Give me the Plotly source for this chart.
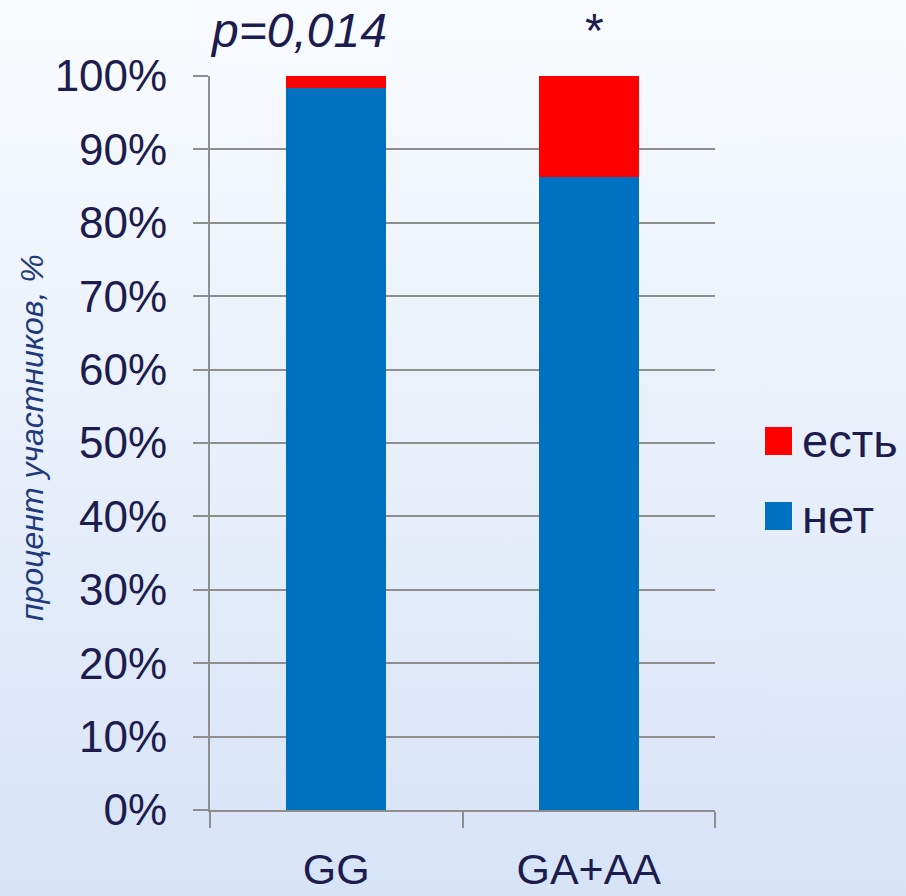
import base64
import plotly.graph_objects as go

categories = ["GG", "GA+AA"]
net_values = [0.984, 0.862]    # "нет"
est_values = [0.016, 0.138]    # "есть"
series_names = ["нет", "есть"]
series_colors = ["#0070C0", "#FF0000"]
y_tickvals = [i / 10 for i in range(11)]
annotation_p = "p=0,014"
annotation_star = "*"
y_title = "процент участников, %"

FONT = "Liberation Sans, Arial, sans-serif"
TXT = "#1c1c4e"

W, H = 906, 896
ML, MT = 210, 76
MR = W - 715
MB = H - 810
PW, PH = W - ML - MR, H - MT - MB


def sx(px):  # screen pixel -> paper x
    return (px - ML) / PW


def sy(py):  # screen pixel -> paper y
    return (H - MB - py) / PH


svg = (
    '<svg xmlns="http://www.w3.org/2000/svg" width="100" height="100" preserveAspectRatio="none">'
    '<defs><linearGradient id="g" x1="0" y1="0" x2="0" y2="1">'
    '<stop offset="0" stop-color="#F9FCFE"/><stop offset="1" stop-color="#D7E3F7"/>'
    '</linearGradient></defs><rect width="100" height="100" fill="url(#g)"/></svg>'
)
bg_uri = "data:image/svg+xml;base64," + base64.b64encode(svg.encode()).decode()

fig = go.Figure()
fig.add_trace(go.Bar(x=categories, y=net_values, name=series_names[0],
                     marker=dict(color=series_colors[0], line=dict(width=0)), showlegend=False))
fig.add_trace(go.Bar(x=categories, y=est_values, name=series_names[1],
                     marker=dict(color=series_colors[1], line=dict(width=0)), showlegend=False))

fig.update_layout(
    width=W, height=H,
    margin=dict(l=ML, r=MR, t=MT, b=MB, pad=0, autoexpand=False),
    barmode="stack", bargap=0.604,
    paper_bgcolor="#F9FCFE", plot_bgcolor="rgba(0,0,0,0)",
    font=dict(family=FONT, color=TXT, size=44),
    images=[dict(source=bg_uri, xref="paper", yref="paper",
                 x=sx(0), y=sy(0),
                 sizex=W / PW, sizey=H / PH, sizing="stretch",
                 xanchor="left", yanchor="top", layer="below")],
)

fig.update_yaxes(
    range=[0, 1], tickvals=y_tickvals, tickformat=".0%", automargin=False,
    showgrid=True, gridcolor="#8E8E8E", gridwidth=2,
    showline=True, linecolor="#8E8E8E", linewidth=2,
    ticks="outside", ticklen=15, tickwidth=2, tickcolor="#8E8E8E",
    ticklabelstandoff=17, zeroline=False,
    tickfont=dict(family=FONT, size=44, color=TXT),
)
fig.update_xaxes(
    automargin=False,
    showgrid=False, showline=True, linecolor="#8E8E8E", linewidth=2,
    ticks="outside", tickson="boundaries", ticklen=16, tickwidth=2, tickcolor="#8E8E8E",
    ticklabelstandoff=20,
    tickfont=dict(family=FONT, size=43, color=TXT),
)

anns = [
    dict(text="<i>" + y_title + "</i>", xref="paper", yref="paper", x=sx(32), y=sy(438),
         textangle=-90, showarrow=False, xanchor="center", yanchor="middle",
         font=dict(family=FONT, size=32, color="#1f3a7a")),
    dict(text="<i>" + annotation_p + "</i>", xref="paper", yref="paper",
         x=sx(298), y=sy(31), showarrow=False,
         xanchor="center", yanchor="middle", bgcolor="#F7FAFE", borderpad=6,
         font=dict(family=FONT, size=48, color=TXT)),
    dict(text=annotation_star, xref="paper", yref="paper",
         x=sx(594), y=sy(30), showarrow=False,
         xanchor="center", yanchor="middle",
         font=dict(family=FONT, size=48, color=TXT)),
]

# manual legend (larger swatches than plotly's built-in)
legend_rows = [(series_names[1], series_colors[1], 441), (series_names[0], series_colors[0], 516)]
shapes = []
for name, color, cy in legend_rows:
    shapes.append(dict(type="rect", xref="paper", yref="paper",
                       x0=sx(765), x1=sx(792),
                       y0=sy(cy - 14), y1=sy(cy + 14),
                       fillcolor=color, line=dict(width=0)))
    anns.append(dict(text=name, xref="paper", yref="paper",
                     x=sx(800), y=sy(cy), showarrow=False,
                     xanchor="left", yanchor="middle",
                     font=dict(family=FONT, size=47, color=TXT)))

fig.update_layout(annotations=anns, shapes=shapes)
fig.write_html("out.html",
               config={"displayModeBar": False},
               post_script="document.body.style.margin='0';document.body.style.overflow='hidden';")
